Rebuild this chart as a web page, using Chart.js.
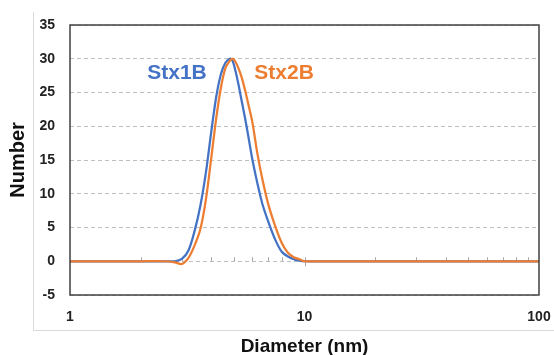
<!DOCTYPE html>
<html>
<head>
<meta charset="utf-8">
<script src="https://cdn.jsdelivr.net/npm/chart.js@4.4.1/dist/chart.umd.min.js"></script>
<style>
  html, body { margin: 0; padding: 0; background: #fff; }
  #wrap { width: 554px; height: 355px; }
</style>
</head>
<body>
<div id="wrap"><canvas id="dls"></canvas></div>
<script>
// diameters (nm) and number distribution
const diameters = [1, 2, 2.5, 2.8, 3.0, 3.2, 3.4, 3.6, 3.8, 4.0, 4.2, 4.4, 4.6, 4.8, 4.9,
  5.0, 5.2, 5.4, 5.6, 5.8, 6.0, 6.3, 6.6, 7.0, 7.5, 8, 8.5, 9, 9.5, 10, 12, 20, 50, 100];
const stx1b = [0, 0, 0, 0, 0.35, 1.6, 4.5, 8.3, 13.2, 19.1, 24.3, 27.7, 29.4, 30, 29.9,
  29.1, 26.6, 23.7, 20.9, 17.9, 15, 11.5, 8.6, 5.9, 3.2, 1.4, 0.7, 0.3, 0.1, 0, 0, 0, 0, 0];
const stx2b = [0, 0, 0, -0.15, -0.4, 0.5, 2.35, 4.8, 9.2, 15.2, 21.1, 25.7, 28.6, 29.7, 29.95,
  29.9, 28.8, 27.2, 25.1, 22.8, 20.5, 15.9, 12.3, 8.5, 5.2, 2.7, 1.25, 0.6, 0.3, 0, 0, 0, 0, 0];
const xTicks = [1, 10, 100];
const minorTicks = [2, 3, 4, 5, 6, 7, 8, 9, 20, 30, 40, 50, 60, 70, 80, 90];

const BLUE = "#4472C4";
const ORANGE = "#ED7D31";
const FONT = "'Liberation Sans', Arial, sans-serif";

function toPoints(ys) {
  return diameters.map((d, i) => ({ x: d, y: ys[i] }));
}

// frame, outer light border, minor ticks on the zero line, series labels
const decorations = {
  id: "decorations",
  beforeDraw(chart) {
    const ctx = chart.ctx;
    ctx.save();
    ctx.strokeStyle = "#d9d9d9";
    ctx.lineWidth = 1;
    ctx.beginPath();
    ctx.moveTo(33.5, 12);
    ctx.lineTo(33.5, 330.5);
    ctx.lineTo(554, 330.5);
    ctx.stroke();
    ctx.restore();
  },
  beforeDatasetsDraw(chart) {
    const ctx = chart.ctx;
    const x = chart.scales.x;
    const y0 = chart.scales.y.getPixelForValue(0);
    ctx.save();
    ctx.strokeStyle = "#a6a6a6";
    ctx.lineWidth = 1;
    ctx.beginPath();
    minorTicks.forEach((v) => {
      const px = Math.round(x.getPixelForValue(v)) + 0.5;
      ctx.moveTo(px, y0 - 4);
      ctx.lineTo(px, y0);
    });
    const p10 = Math.round(x.getPixelForValue(10)) + 0.5;
    ctx.moveTo(p10, y0 - 4);
    ctx.lineTo(p10, y0 + 5);
    ctx.stroke();
    ctx.restore();
  },
  afterDraw(chart) {
    const ctx = chart.ctx;
    const a = chart.chartArea;
    const x = chart.scales.x;
    const y = chart.scales.y;
    ctx.save();
    ctx.strokeStyle = "#404040";
    ctx.lineWidth = 1.5;
    ctx.strokeRect(a.left, a.top, a.right - a.left, a.bottom - a.top);

    ctx.font = "bold 21px " + FONT;
    ctx.textBaseline = "middle";
    ctx.fillStyle = BLUE;
    ctx.textAlign = "right";
    ctx.fillText("Stx1B", x.getPixelForValue(3.83), y.getPixelForValue(27.8));
    ctx.fillStyle = ORANGE;
    ctx.textAlign = "left";
    ctx.fillText("Stx2B", x.getPixelForValue(6.11), y.getPixelForValue(27.8));
    ctx.restore();
  },
};

const ctx = document.getElementById("dls").getContext("2d");
new Chart(ctx, {
  type: "line",
  data: {
    datasets: [
      {
        label: "Stx1B",
        data: toPoints(stx1b),
        borderColor: BLUE,
        borderWidth: 2.25,
        pointRadius: 0,
        tension: 0.3,
        order: 1,
      },
      {
        label: "Stx2B",
        data: toPoints(stx2b),
        borderColor: ORANGE,
        borderWidth: 2.25,
        pointRadius: 0,
        tension: 0.3,
        order: 0,
      },
    ],
  },
  options: {
    responsive: true,
    maintainAspectRatio: false,
    animation: false,
    layout: { padding: { top: 25, right: 15, left: 0, bottom: 0 } },
    plugins: {
      legend: { display: false },
      tooltip: { enabled: false },
    },
    scales: {
      x: {
        type: "logarithmic",
        min: 1,
        max: 100,
        afterBuildTicks: (scale) => {
          scale.ticks = xTicks.map((v) => ({ value: v }));
        },
        afterFit: (scale) => {
          scale.height = 60;
          scale.paddingRight = 0;
        },
        grid: { display: false, drawTicks: false },
        border: { display: false },
        ticks: {
          padding: 14,
          maxRotation: 0,
          color: "#222",
          font: { family: FONT, size: 14, weight: "bold" },
          callback: (v) => String(v),
        },
        title: {
          display: true,
          text: "Diameter (nm)",
          color: "#111",
          padding: { top: 8, bottom: 0 },
          font: { family: FONT, size: 19, weight: "bold", lineHeight: 0.85 },
        },
      },
      y: {
        min: -5,
        max: 35,
        afterFit: (scale) => {
          scale.width = 70;
        },
        grid: {
          color: "#bfbfbf",
          lineWidth: 1,
          drawTicks: false,
        },
        border: { display: false, dash: [4, 3] },
        ticks: {
          stepSize: 5,
          padding: 15,
          color: "#222",
          font: { family: FONT, size: 14, weight: "bold" },
        },
        title: {
          display: true,
          text: "Number",
          color: "#111",
          padding: { top: 6, bottom: 0 },
          font: { family: FONT, size: 20, weight: "bold" },
        },
      },
    },
  },
  plugins: [decorations],
});
</script>
</body>
</html>
